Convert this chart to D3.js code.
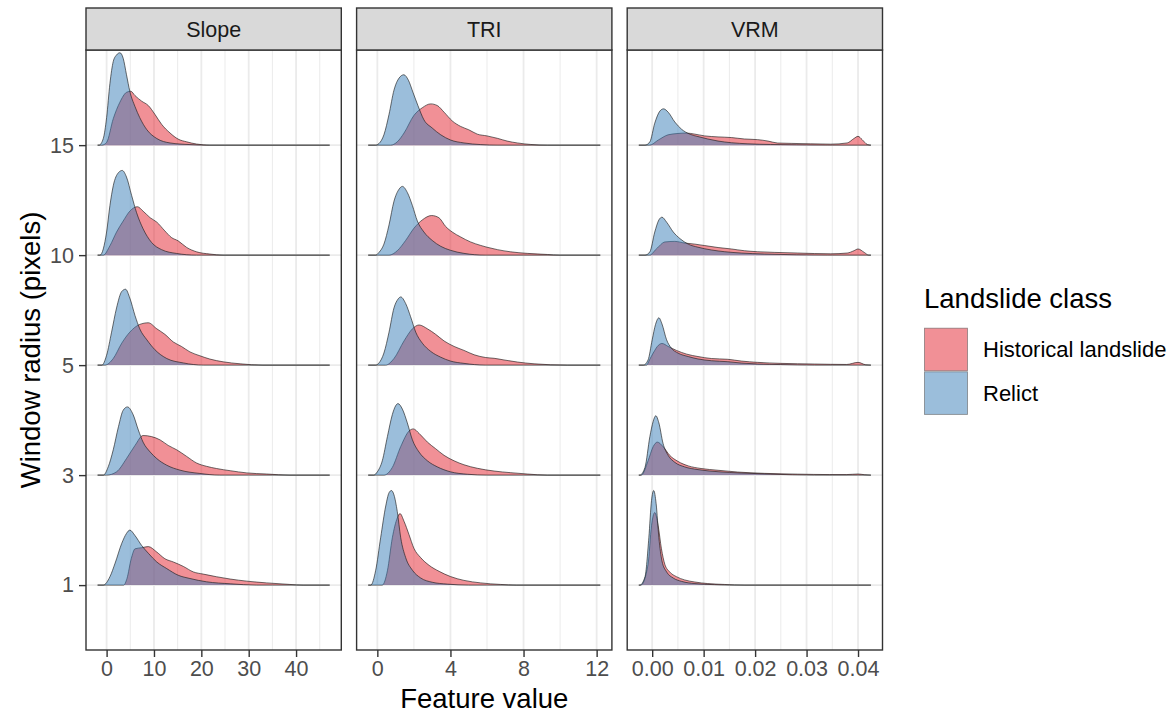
<!DOCTYPE html>
<html lang="en">
<head>
  <meta charset="UTF-8">
  <title>Landslide ridgelines</title>
  <style>
    body { margin: 0; background: #fff; }
    svg { font-family: "Liberation Sans", Arial, Helvetica, sans-serif; }
  </style>
</head>
<body>
  <div id="chart"></div>

  <script src="https://d3js.org/d3.v7.min.js"></script>

  <script>
    // facets, rows and groups
    var features = ["Slope", "TRI", "VRM"];
    var radii = ["1", "3", "5", "10", "15"];
    var classes = ["Historical landslide", "Relict"];
    var classColors = ["#E4212E", "#377EB8"];

    // axis breaks per facet
    var slopeTicks = [0, 10, 20, 30, 40];
    var triTicks = [0, 4, 8, 12];
    var vrmTicks = [0, 0.01, 0.02, 0.03, 0.04];
    var slopeMinor = [5, 15, 25, 35, 45];
    var triMinor = [2, 6, 10];
    var vrmMinor = [0.005, 0.015, 0.025, 0.035];

    // data range of each feature (where the ridge baselines start and stop)
    var slopeRange = [-1.9, 47.1];
    var triRange = [-0.5, 12.2];
    var vrmRange = [-0.0026, 0.0425];

    // density heights read off the ridges, one list per radius (1, 3, 5, 10, 15)
    // each point is [feature value, scaled density]
    var slopeHistorical = [
      [[3.6,0],[4.3,0.06],[5.2,0.24],[6,0.33],[7.4,0.34],[8.8,0.35],[10.6,0.30],[12.3,0.24],[14.1,0.21],[16.2,0.17],[18.3,0.12],[20.4,0.10],[23.2,0.076],[26.1,0.055],[29.6,0.036],[33.8,0.02],[38.7,0.006],[41.5,0]],
      [[0,0],[2.1,0.03],[4.2,0.15],[6,0.27],[7.7,0.36],[9.5,0.35],[11.3,0.32],[13,0.27],[14.8,0.23],[16.9,0.17],[19,0.11],[21.1,0.08],[23.2,0.06],[26.1,0.04],[29.6,0.02],[33.8,0.01],[38.7,0]],
      [[-0.35,0],[1.4,0.06],[3.2,0.2],[4.9,0.30],[7,0.37],[8.8,0.385],[10.6,0.33],[12.3,0.28],[14.1,0.21],[15.8,0.17],[17.6,0.12],[19.7,0.085],[21.8,0.055],[24.6,0.03],[28.2,0.012],[33,0]],
      [[-0.7,0],[0.7,0.085],[2.1,0.21],[3.5,0.31],[4.9,0.40],[6.5,0.44],[7.7,0.40],[9.2,0.34],[10.6,0.30],[12.3,0.22],[13.7,0.16],[15.1,0.13],[16.9,0.07],[19,0.03],[21.8,0.01],[24.6,0]],
      [[-1,0],[0,0.025],[1.4,0.24],[2.8,0.39],[4.2,0.48],[5.1,0.49],[6,0.45],[7.4,0.40],[8.8,0.36],[10.2,0.28],[11.6,0.19],[13.4,0.11],[15.1,0.055],[16.9,0.03],[19,0.01],[21.8,0]]
    ];
    var slopeRelict = [
      [[-0.7,0],[0.7,0.076],[1.8,0.2],[3.2,0.38],[4.2,0.47],[4.9,0.5],[6,0.45],[7.4,0.36],[8.8,0.29],[10.6,0.21],[12.7,0.15],[15.1,0.09],[17.6,0.06],[21.1,0.03],[26.1,0.012],[31.7,0]],
      [[-0.7,0],[0.35,0.076],[1.4,0.23],[2.5,0.44],[3.5,0.59],[4.4,0.62],[5.6,0.55],[6.7,0.41],[7.7,0.30],[9.2,0.21],[10.6,0.15],[12.7,0.09],[15.5,0.045],[19.7,0.015],[23.9,0]],
      [[-1,0],[0,0.09],[1.05,0.30],[2.1,0.52],[3.2,0.67],[4,0.69],[4.9,0.61],[6,0.45],[7,0.33],[8.5,0.23],[10.2,0.14],[12.7,0.06],[16.2,0.02],[20.4,0]],
      [[-1.4,0],[0,0.21],[0.7,0.45],[1.4,0.63],[2.5,0.75],[3.3,0.77],[4.2,0.71],[5.3,0.54],[6.3,0.39],[7.7,0.24],[9.5,0.115],[11.6,0.05],[14.8,0.015],[19,0]],
      [[-1.6,0],[-0.7,0.06],[0,0.25],[0.7,0.56],[1.4,0.76],[2.1,0.82],[2.8,0.84],[3.5,0.79],[4.2,0.64],[4.9,0.49],[6,0.35],[7,0.25],[8.5,0.14],[10.6,0.06],[13.4,0.02],[17.6,0.005],[21,0]]
    ];
    var triHistorical = [
      [[0.27,0],[0.55,0.13],[0.82,0.43],[1.09,0.61],[1.24,0.65],[1.46,0.58],[1.73,0.46],[2.0,0.335],[2.37,0.25],[2.83,0.18],[3.38,0.125],[4.0,0.078],[4.74,0.043],[5.66,0.02],[6.75,0.006],[7.6,0]],
      [[0.36,0],[0.82,0.07],[1.28,0.26],[1.73,0.4],[1.97,0.42],[2.28,0.38],[2.74,0.3],[3.19,0.24],[3.65,0.18],[4.2,0.13],[4.74,0.094],[5.47,0.062],[6.39,0.037],[7.3,0.022],[8.2,0.01],[9.3,0]],
      [[0.45,0],[0.91,0.06],[1.46,0.22],[1.92,0.33],[2.28,0.365],[2.74,0.33],[3.19,0.28],[3.65,0.22],[4.2,0.17],[4.74,0.134],[5.3,0.094],[5.93,0.069],[6.39,0.062],[6.93,0.047],[7.66,0.028],[8.58,0.012],[10.4,0]],
      [[0.64,0],[1.09,0.04],[1.55,0.134],[2.0,0.244],[2.46,0.32],[2.97,0.36],[3.37,0.34],[3.74,0.26],[4.1,0.21],[4.56,0.165],[5.1,0.12],[5.66,0.088],[6.0,0.072],[6.57,0.05],[7.3,0.03],[8.2,0.016],[9.3,0.006],[10.0,0]],
      [[0.73,0],[1.09,0.03],[1.46,0.11],[2.0,0.27],[2.46,0.34],[2.92,0.375],[3.28,0.36],[3.65,0.30],[4.1,0.22],[4.56,0.17],[5.0,0.14],[5.47,0.1],[6.0,0.084],[6.57,0.062],[7.1,0.037],[7.66,0.02],[8.4,0.006],[9.3,0]]
    ];
    var triRelict = [
      [[-0.36,0],[-0.09,0.135],[0.18,0.43],[0.46,0.72],[0.64,0.84],[0.77,0.86],[0.91,0.82],[1.09,0.67],[1.28,0.43],[1.55,0.25],[1.92,0.135],[2.37,0.065],[3.0,0.026],[3.83,0.009],[5.0,0]],
      [[-0.2,0],[0.0,0.03],[0.27,0.13],[0.55,0.35],[0.82,0.55],[1.0,0.63],[1.13,0.65],[1.37,0.6],[1.64,0.475],[1.92,0.32],[2.28,0.21],[2.74,0.13],[3.28,0.075],[4.0,0.03],[4.93,0.008],[6,0]],
      [[-0.1,0],[0.09,0.02],[0.36,0.11],[0.64,0.3],[0.91,0.52],[1.13,0.6],[1.28,0.62],[1.55,0.56],[1.82,0.44],[2.1,0.3],[2.46,0.2],[2.92,0.125],[3.47,0.072],[4.0,0.037],[4.74,0.016],[5.9,0]],
      [[-0.1,0],[0.09,0.025],[0.36,0.10],[0.64,0.275],[0.91,0.49],[1.19,0.6],[1.37,0.625],[1.64,0.57],[1.92,0.45],[2.19,0.31],[2.55,0.21],[3.0,0.134],[3.47,0.08],[4.0,0.044],[4.74,0.016],[5.9,0]],
      [[-0.1,0],[0.09,0.015],[0.36,0.094],[0.64,0.28],[0.91,0.5],[1.19,0.61],[1.45,0.64],[1.7,0.59],[1.95,0.48],[2.22,0.36],[2.55,0.23],[3.0,0.156],[3.47,0.094],[4.0,0.047],[4.74,0.02],[5.66,0.005],[6.6,0]]
    ];
    var vrmHistorical = [
      [[-0.0022,0],[-0.0008,0.19],[-0.00013,0.54],[0.0005,0.66],[0.00116,0.54],[0.0018,0.33],[0.00245,0.19],[0.0034,0.12],[0.0047,0.077],[0.0063,0.047],[0.0083,0.028],[0.0108,0.014],[0.014,0.006],[0.018,0]],
      [[-0.0021,0],[-0.0008,0.13],[0.0002,0.26],[0.001,0.3],[0.0021,0.26],[0.0034,0.18],[0.005,0.125],[0.007,0.084],[0.0095,0.06],[0.0128,0.044],[0.0166,0.028],[0.0218,0.016],[0.0283,0.009],[0.0345,0.005],[0.0378,0.005],[0.04,0.01],[0.0412,0.004],[0.0425,0]],
      [[-0.0011,0],[-0.0005,0.05],[0.0002,0.11],[0.0012,0.18],[0.0019,0.197],[0.0031,0.17],[0.0047,0.134],[0.0067,0.1],[0.0089,0.078],[0.0115,0.06],[0.0147,0.053],[0.0173,0.037],[0.0205,0.025],[0.025,0.016],[0.0315,0.01],[0.0378,0.006],[0.04,0.025],[0.0415,0.003],[0.0425,0]],
      [[-0.0005,0],[0.0008,0.056],[0.0025,0.12],[0.0044,0.125],[0.0063,0.11],[0.0083,0.1],[0.0102,0.087],[0.0128,0.069],[0.0154,0.056],[0.0179,0.04],[0.0205,0.031],[0.0237,0.025],[0.0283,0.019],[0.0347,0.012],[0.0379,0.019],[0.0392,0.04],[0.04,0.056],[0.0412,0.025],[0.0421,0]],
      [[-0.0005,0],[0.0012,0.047],[0.0031,0.094],[0.005,0.106],[0.0066,0.11],[0.0083,0.1],[0.0102,0.084],[0.0128,0.075],[0.0154,0.069],[0.0179,0.056],[0.0205,0.05],[0.0225,0.037],[0.0244,0.019],[0.027,0.016],[0.0308,0.012],[0.0347,0.009],[0.0379,0.02],[0.0392,0.06],[0.04,0.08],[0.0408,0.05],[0.0418,0.006],[0.0425,0]]
    ];
    var vrmRelict = [
      [[-0.0024,0],[-0.0014,0.075],[-0.00065,0.43],[-0.00013,0.77],[0.0003,0.86],[0.00077,0.74],[0.0013,0.43],[0.0019,0.22],[0.0028,0.12],[0.0041,0.064],[0.0057,0.034],[0.0083,0.014],[0.0121,0.004],[0.015,0]],
      [[-0.0024,0],[-0.0014,0.07],[-0.00045,0.35],[0.0002,0.49],[0.0007,0.54],[0.0013,0.475],[0.0021,0.29],[0.0031,0.18],[0.0044,0.116],[0.0063,0.075],[0.0089,0.05],[0.0128,0.031],[0.0173,0.019],[0.023,0.009],[0.0315,0]],
      [[-0.0017,0],[-0.0008,0.047],[0,0.23],[0.00065,0.37],[0.0013,0.43],[0.0019,0.375],[0.0028,0.23],[0.0037,0.156],[0.005,0.11],[0.007,0.078],[0.0089,0.056],[0.0115,0.04],[0.0147,0.031],[0.0173,0.019],[0.0205,0.01],[0.025,0.005],[0.0315,0]],
      [[-0.0014,0],[-0.00045,0.03],[0.0005,0.21],[0.0013,0.32],[0.0019,0.345],[0.0028,0.3],[0.0041,0.21],[0.0054,0.15],[0.007,0.1],[0.0089,0.072],[0.0115,0.047],[0.0141,0.031],[0.0173,0.019],[0.0218,0.01],[0.028,0.003],[0.034,0]],
      [[-0.0014,0],[-0.00045,0.03],[0.0005,0.2],[0.0015,0.31],[0.0022,0.33],[0.0031,0.3],[0.0044,0.21],[0.0057,0.145],[0.0073,0.1],[0.0089,0.078],[0.0108,0.056],[0.0128,0.037],[0.0154,0.022],[0.0186,0.012],[0.023,0.006],[0.028,0.003],[0.034,0]]
    ];

    // tie the arrays to their facet
    var facetInfo = [
      {ticks: slopeTicks, minor: slopeMinor, range: slopeRange, fmt: d3.format("d"), groups: [slopeHistorical, slopeRelict]},
      {ticks: triTicks, minor: triMinor, range: triRange, fmt: d3.format("d"), groups: [triHistorical, triRelict]},
      {ticks: vrmTicks, minor: vrmMinor, range: vrmRange, fmt: d3.format(".2f"), groups: [vrmHistorical, vrmRelict]}
    ];

    // layout
    var width = 1173, height = 715;
    var panelTop = 50, panelBottom = 650, stripTop = 8;
    var panelLeft = 86, panelW = 255.3, panelGap = 15.3;

    var svg = d3.select("#chart")
      .append("svg")
      .attr("width", width)
      .attr("height", height);

    // shared y scale: row index (1..5) plus ridge height
    var y = d3.scaleLinear()
      .domain([0.41, 5.865])
      .range([panelBottom, panelTop]);

    facetInfo.forEach(function(f, k) {
      var left = panelLeft + k * (panelW + panelGap);
      var span = f.range[1] - f.range[0];
      var x = d3.scaleLinear()
        .domain([f.range[0] - 0.05 * span, f.range[1] + 0.05 * span])
        .range([left, left + panelW]);

      var g = svg.append("g");

      // grid
      g.selectAll(".minor")
        .data(f.minor.filter(function(d) { return x(d) > left && x(d) < left + panelW; }))
        .enter().append("line")
        .attr("x1", function(d) { return x(d); })
        .attr("x2", function(d) { return x(d); })
        .attr("y1", panelTop).attr("y2", panelBottom)
        .attr("stroke", "#EBEBEB").attr("stroke-width", 1);
      g.selectAll(".major")
        .data(f.ticks)
        .enter().append("line")
        .attr("x1", function(d) { return x(d); })
        .attr("x2", function(d) { return x(d); })
        .attr("y1", panelTop).attr("y2", panelBottom)
        .attr("stroke", "#EBEBEB").attr("stroke-width", 1.8);
      g.selectAll(".hgrid")
        .data(d3.range(1, radii.length + 1))
        .enter().append("line")
        .attr("x1", left).attr("x2", left + panelW)
        .attr("y1", function(d) { return y(d); })
        .attr("y2", function(d) { return y(d); })
        .attr("stroke", "#EBEBEB").attr("stroke-width", 1.8);

      // ridges, top row first, relict drawn over historical
      for (var r = radii.length - 1; r >= 0; r--) {
        f.groups.forEach(function(grp, c) {
          var pts = [[f.range[0], 0]].concat(grp[r], [[f.range[1], 0]]);
          var row = r + 1;
          var area = d3.area()
            .x(function(d) { return x(d[0]); })
            .y0(y(row))
            .y1(function(d) { return y(row + d[1]); })
            .curve(d3.curveMonotoneX);
          var line = d3.line()
            .x(function(d) { return x(d[0]); })
            .y(function(d) { return y(row + d[1]); })
            .curve(d3.curveMonotoneX);
          g.append("path")
            .attr("d", area(pts))
            .attr("fill", classColors[c])
            .attr("fill-opacity", 0.5);
          g.append("path")
            .attr("d", line(pts))
            .attr("fill", "none")
            .attr("stroke", "#1A1A1A")
            .attr("stroke-opacity", 0.7)
            .attr("stroke-width", 0.9);
        });
      }

      // panel border
      g.append("rect")
        .attr("x", left).attr("y", panelTop)
        .attr("width", panelW).attr("height", panelBottom - panelTop)
        .attr("fill", "none").attr("stroke", "#333333").attr("stroke-width", 1.4);

      // strip
      g.append("rect")
        .attr("x", left).attr("y", stripTop)
        .attr("width", panelW).attr("height", panelTop - stripTop)
        .attr("fill", "#D9D9D9").attr("stroke", "#333333").attr("stroke-width", 1.4);
      g.append("text")
        .attr("x", left + panelW / 2)
        .attr("y", (stripTop + panelTop) / 2 + 7.5)
        .attr("text-anchor", "middle")
        .attr("font-size", "21.5px")
        .attr("fill", "#1A1A1A")
        .text(features[k]);

      // x axis
      var xAxis = g.append("g")
        .attr("transform", "translate(0," + panelBottom + ")")
        .call(d3.axisBottom(x).tickValues(f.ticks).tickFormat(f.fmt).tickSize(7).tickPadding(4));
      xAxis.select(".domain").remove();
      xAxis.selectAll("line").attr("stroke", "#333333").attr("stroke-width", 1.4);
      xAxis.selectAll("text")
        .attr("font-size", "21.5px")
        .attr("font-family", "Liberation Sans, Arial, sans-serif")
        .attr("fill", "#4D4D4D");
    });

    // y axis
    var yAxis = svg.append("g")
      .attr("transform", "translate(" + panelLeft + ",0)")
      .call(d3.axisLeft(y).tickValues(d3.range(1, radii.length + 1))
        .tickFormat(function(d) { return radii[d - 1]; })
        .tickSize(7).tickPadding(5));
    yAxis.select(".domain").remove();
    yAxis.selectAll("line").attr("stroke", "#333333").attr("stroke-width", 1.4);
    yAxis.selectAll("text")
      .attr("font-size", "21.5px")
      .attr("font-family", "Liberation Sans, Arial, sans-serif")
      .attr("fill", "#4D4D4D");

    // axis titles
    svg.append("text")
      .attr("x", panelLeft + (3 * panelW + 2 * panelGap) / 2)
      .attr("y", 708)
      .attr("text-anchor", "middle")
      .attr("font-size", "27.5px")
      .text("Feature value");
    svg.append("text")
      .attr("transform", "translate(40," + (panelTop + panelBottom) / 2 + ") rotate(-90)")
      .attr("text-anchor", "middle")
      .attr("font-size", "27.5px")
      .text("Window radius (pixels)");

    // legend
    var legend = svg.append("g").attr("transform", "translate(924,0)");
    legend.append("text")
      .attr("x", 0).attr("y", 308)
      .attr("font-size", "27.5px")
      .text("Landslide class");
    classes.forEach(function(name, c) {
      var top = 327.7 + c * 43.6;
      legend.append("rect")
        .attr("x", 0).attr("y", top)
        .attr("width", 44).attr("height", 43.6)
        .attr("fill", "#fff");
      legend.append("rect")
        .attr("x", 0.5).attr("y", top + 0.5)
        .attr("width", 43).attr("height", 42.6)
        .attr("fill", classColors[c]).attr("fill-opacity", 0.5)
        .attr("stroke", "#555").attr("stroke-opacity", 0.6).attr("stroke-width", 0.9);
      legend.append("text")
        .attr("x", 59).attr("y", top + 21.8)
        .attr("dy", "0.35em")
        .attr("font-size", "22px")
        .text(name);
    });
  </script>
</body>
</html>
